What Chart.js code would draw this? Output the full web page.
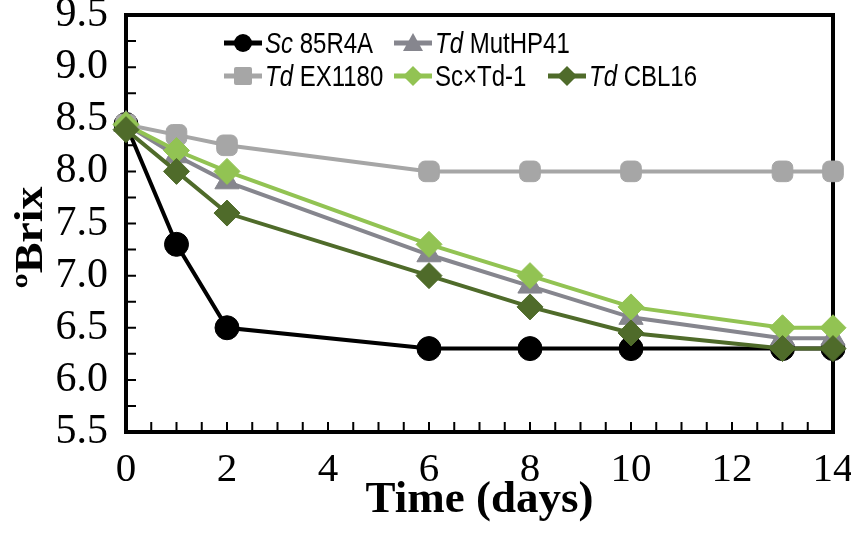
<!DOCTYPE html>
<html>
<head>
<meta charset="utf-8">
<script src="https://cdn.jsdelivr.net/npm/chart.js@4.4.1/dist/chart.umd.min.js"></script>
<style>
  body { margin: 0; background: #fff; }
  #wrap { position: relative; width: 851px; height: 537px; }
  #legend { position: absolute; left: 0; top: 0; font-family: "Liberation Sans", Arial, sans-serif; font-size: 30px; color: #000; }
  .item { position: absolute; display: flex; align-items: center; white-space: nowrap; transform: translateY(-50%); }
  .item svg { margin-right: 2px; }
  .item span { display: inline-block; transform: scaleX(0.8); transform-origin: left center; }
</style>
</head>
<body>
<div id="wrap">
  <canvas id="c" width="851" height="537"></canvas>
  <div id="legend"></div>
</div>
<script>
// time in days
const days = [0, 1, 2, 6, 8, 10, 13, 14];

// ºBrix per strain
const sc85R4A  = [8.45, 7.3, 6.5, 6.3, 6.3, 6.3, 6.3, 6.3];
const tdMutHP41 = [8.45, 8.15, 7.9, 7.2, 6.9, 6.6, 6.4, 6.4];
const tdEX1180 = [8.45, 8.35, 8.25, 8.0, 8.0, 8.0, 8.0, 8.0];
const scTd1    = [8.45, 8.2, 8.0, 7.3, 7.0, 6.7, 6.5, 6.5];
const tdCBL16  = [8.4, 8.0, 7.6, 7.0, 6.7, 6.45, 6.3, 6.3];

const xTicks = [0, 2, 4, 6, 8, 10, 12, 14];
const yTicks = [5.5, 6.0, 6.5, 7.0, 7.5, 8.0, 8.5, 9.0, 9.5];

const serif = '"Liberation Serif", "Times New Roman", serif';

function pts(arr) {
  return days.map((d, i) => ({ x: d, y: arr[i] }));
}

function series(label, arr, color, style, radius, order) {
  return {
    label: label,
    data: pts(arr),
    borderColor: color,
    backgroundColor: color,
    pointBackgroundColor: color,
    pointBorderColor: color,
    borderWidth: 4,
    pointStyle: style,
    pointRadius: radius,
    pointBorderWidth: 1,
    tension: 0,
    clip: false,
    order: order
  };
}

// frame round the plot and little inward ticks
const frameTicks = {
  id: 'frameTicks',
  beforeDatasetsDraw(chart) {
    const { ctx, chartArea: a, scales: { x, y } } = chart;
    ctx.save();
    ctx.strokeStyle = '#000';
    ctx.lineWidth = 4;
    ctx.strokeRect(a.left, a.top, a.right - a.left, a.bottom - a.top);
    ctx.lineWidth = 2;
    ctx.beginPath();
    for (let v = y.min; v <= y.max + 1e-9; v += 0.25) {
      const py = y.getPixelForValue(v);
      ctx.moveTo(a.left, py);
      ctx.lineTo(a.left + 10, py);
    }
    for (let v = x.min; v <= x.max + 1e-9; v += 0.5) {
      const px = x.getPixelForValue(v);
      ctx.moveTo(px, a.bottom);
      ctx.lineTo(px, a.bottom - 10);
    }
    ctx.stroke();
    ctx.restore();
  },
  // y title, a bit stretched along its length like the original
  afterDraw(chart) {
    const { ctx, chartArea: a } = chart;
    ctx.save();
    ctx.translate(42, (a.top + a.bottom) / 2 + 14);
    ctx.rotate(-Math.PI / 2);
    ctx.scale(1.15, 1);
    ctx.font = 'bold 40px ' + serif;
    ctx.fillStyle = '#000';
    ctx.textAlign = 'center';
    ctx.textBaseline = 'alphabetic';
    ctx.fillText('ºBrix', 0, 0);
    ctx.restore();
  }
};

new Chart(document.getElementById('c'), {
  type: 'line',
  data: {
    datasets: [
      series('Sc 85R4A', sc85R4A, '#000000', 'circle', 12, 5),
      series('Td MutHP41', tdMutHP41, '#86868e', 'triangle', 14, 3),
      series('Td EX1180', tdEX1180, '#a6a6a6', 'rectRounded', 12, 4),
      series('Sc×Td-1', scTd1, '#92c353', 'rectRot', 13, 2),
      series('Td CBL16', tdCBL16, '#4f6b2a', 'rectRot', 13, 1)
    ]
  },
  options: {
    responsive: false,
    animation: false,
    layout: { padding: { top: 14, right: 18, left: 0, bottom: 0 } },
    plugins: { legend: { display: false }, tooltip: { enabled: false } },
    scales: {
      x: {
        type: 'linear',
        min: 0,
        max: 14,
        afterFit(s) { s.height = 105; s.paddingLeft = 0; s.paddingRight = 0; },
        afterBuildTicks(s) { s.ticks = xTicks.map(v => ({ value: v })); },
        grid: { display: false, drawTicks: false },
        border: { display: false },
        ticks: {
          color: '#000',
          padding: 14,
          autoSkip: false,
          maxRotation: 0,
          font: { family: serif, size: 41 }
        },
        title: {
          display: true,
          text: 'Time (days)',
          color: '#000',
          padding: { top: 0, bottom: 10 },
          font: { family: serif, size: 45, weight: 'bold' }
        }
      },
      y: {
        min: 5.5,
        max: 9.5,
        afterFit(s) { s.width = 126; s.paddingTop = 0; s.paddingBottom = 0; },
        afterBuildTicks(s) { s.ticks = yTicks.map(v => ({ value: v })); },
        grid: { display: false, drawTicks: false },
        border: { display: false },
        ticks: {
          color: '#000',
          padding: 18,
          autoSkip: false,
          callback: v => v.toFixed(1),
          font: { family: serif, size: 42 }
        }
      }
    }
  },
  plugins: [frameTicks]
});

// legend, laid out like the original (two rows, inside the frame)
const legendItems = [
  { html: '<i>Sc</i> 85R4A', color: '#000000', mark: 'circle', left: 223, top: 43 },
  { html: '<i>Td</i> MutHP41', color: '#86868e', mark: 'triangle', left: 393, top: 43 },
  { html: '<i>Td</i> EX1180', color: '#a6a6a6', mark: 'square', left: 223, top: 76 },
  { html: 'Sc×Td-1', color: '#92c353', mark: 'diamond', left: 393, top: 76 },
  { html: '<i>Td</i> CBL16', color: '#4f6b2a', mark: 'diamond', left: 547, top: 76 }
];

function swatch(color, mark) {
  let m = '';
  if (mark === 'circle') m = `<circle cx="20" cy="12" r="9" fill="${color}"/>`;
  if (mark === 'square') m = `<rect x="11" y="3" width="18" height="18" rx="2" fill="${color}"/>`;
  if (mark === 'triangle') m = `<polygon points="20,2 30,20 10,20" fill="${color}"/>`;
  if (mark === 'diamond') m = `<polygon points="20,2 30,12 20,22 10,12" fill="${color}"/>`;
  return `<svg width="40" height="24"><line x1="1" y1="12" x2="39" y2="12" stroke="${color}" stroke-width="5"/>${m}</svg>`;
}

const legend = document.getElementById('legend');
legendItems.forEach(it => {
  const d = document.createElement('div');
  d.className = 'item';
  d.style.left = it.left + 'px';
  d.style.top = it.top + 'px';
  d.innerHTML = swatch(it.color, it.mark) + '<span>' + it.html + '</span>';
  legend.appendChild(d);
});
</script>
</body>
</html>
